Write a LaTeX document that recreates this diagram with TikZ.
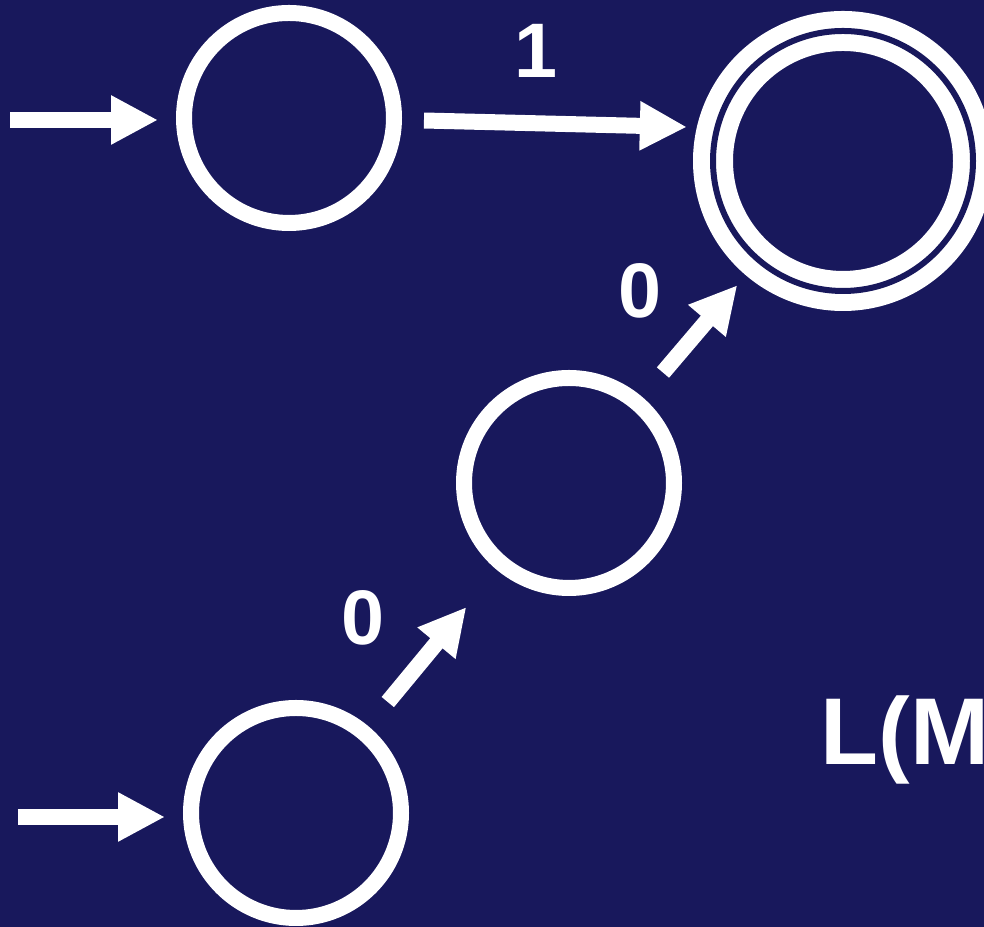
\documentclass[tikz,border=0pt]{standalone}
\usepackage{fontspec}
\setmainfont{Liberation Sans}
\usetikzlibrary{positioning, arrows.meta}
\definecolor{navybg}{RGB}{24,24,92}

\begin{document}
\begin{tikzpicture}[
    state/.style={circle, draw=white, line width=0.16cm, minimum size=2.10cm, inner sep=0pt},
    accept/.style={circle, draw=white, line width=0.17cm, double=navybg, double distance=0.06cm, minimum size=2.60cm, inner sep=0pt, outer sep=0.20cm},
    arr/.style={-{Triangle[length=0.47cm, width=0.46cm]}, line width=0.16cm, draw=white},
    lbl/.style={text=white, font=\bfseries\fontsize{22}{26}\selectfont, inner sep=0pt}
]
    \fill[navybg] (0,0) rectangle (9.84,9.27);
    \useasboundingbox (0,0) rectangle (9.84,9.27);

    \node[state] (q1) at (2.89,8.09) {};
    \node[accept] (acc) at (8.43,7.66) {};
    \node[state] (q2) at (5.69,4.44) {};
    \node[state] (q3) at (2.96,1.14) {};

    \coordinate (s1) at (0.10,8.07);
    \coordinate (s3) at (0.18,1.10);

    \node[lbl, anchor=base west] (lang) at (8.20,1.62) {\fontsize{27}{32}\selectfont L(M};

    \draw[arr, shorten >=0.18cm] (s1) -- (q1.west |- s1);
    \draw[arr, shorten >=0.18cm] (s3) -- (q3.west |- s3);
    \draw[arr, shorten <=0.22cm, shorten >=0.10cm] (q1.-1) -- node[lbl, above=0.38cm, xshift=-0.13cm] (l1) {1} (acc.167);
    \draw[arr, shorten <=0.31cm, shorten >=0.48cm] (q3) -- node[lbl, above left=-0.05cm and 0.40cm] (l0a) {0} (q2);
    \draw[arr, shorten <=0.32cm, shorten >=0.13cm] (q2) -- node[lbl, above left=0.10cm and 0.25cm] (l0b) {0} (acc);
\end{tikzpicture}
\end{document}
